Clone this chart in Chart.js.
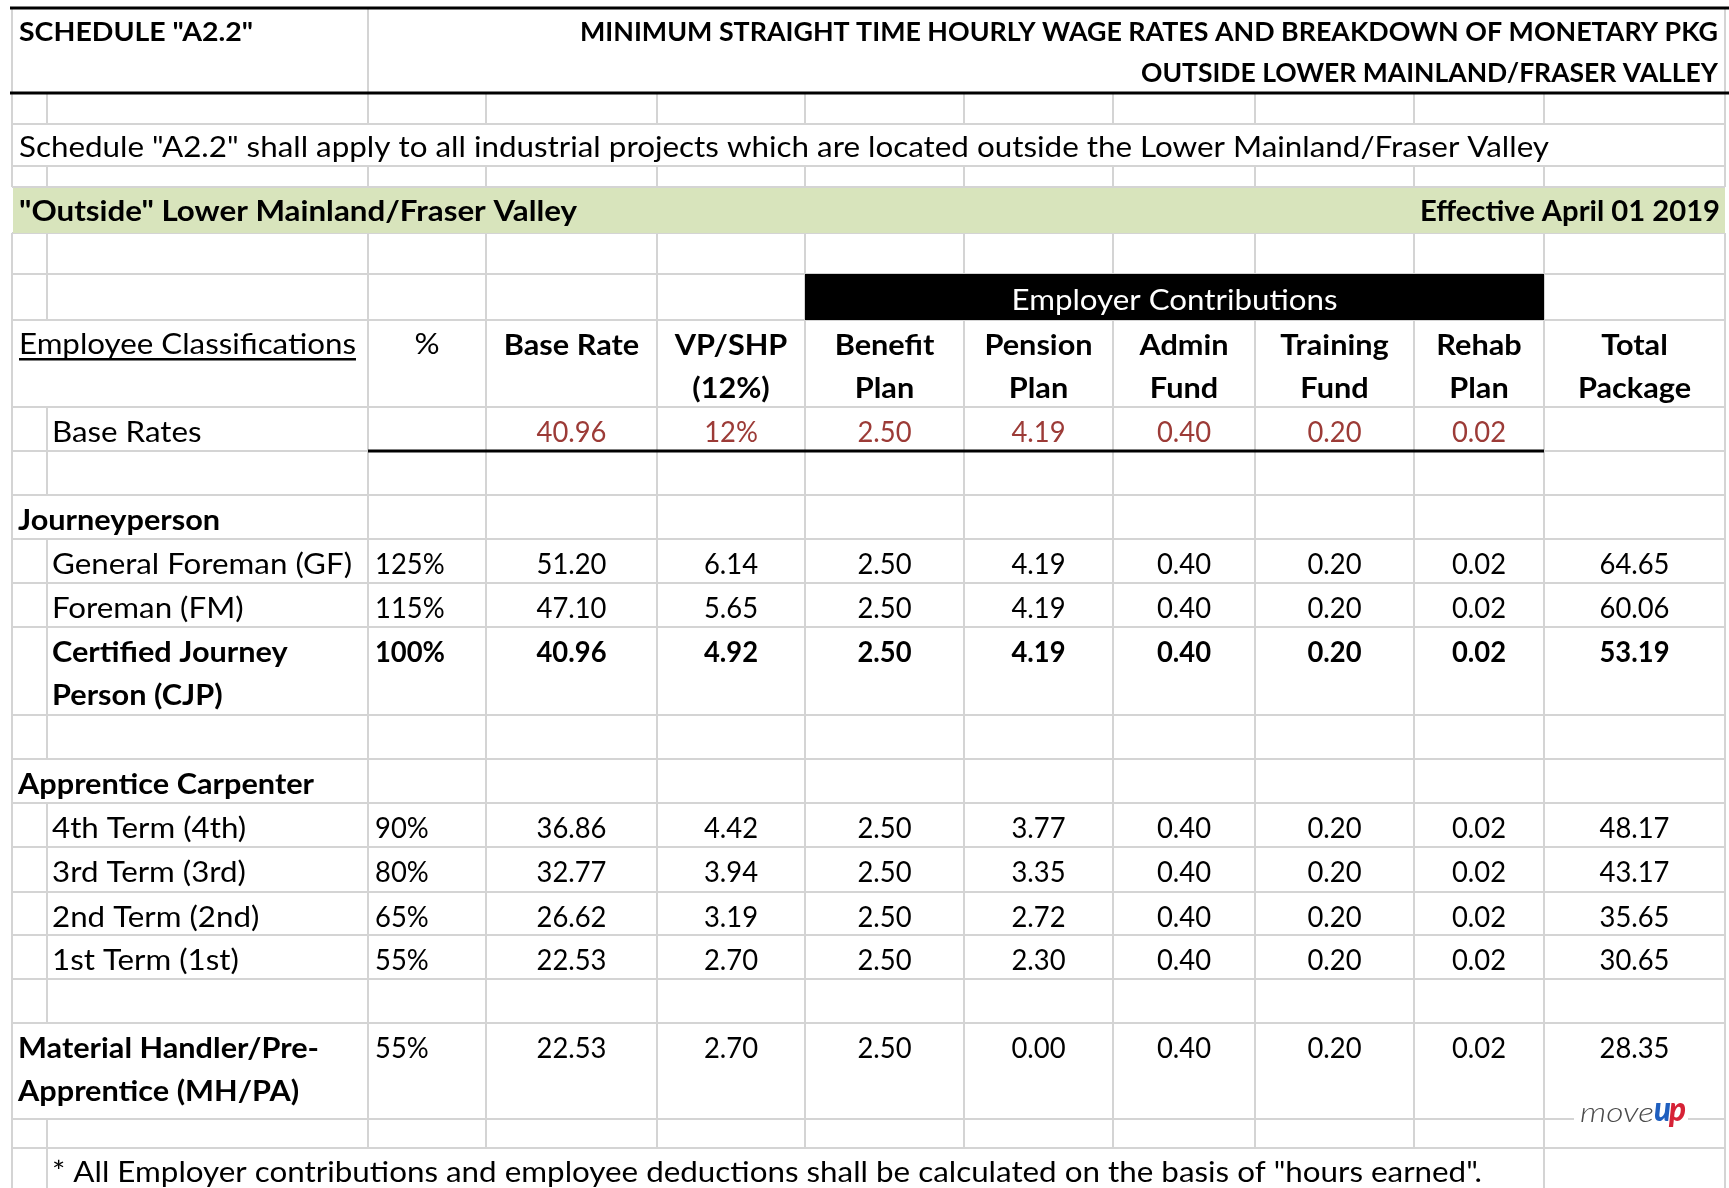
<!DOCTYPE html>
<html>
<head>
<meta charset="utf-8">
<title>Schedule A2.2</title>
<script src="https://cdn.jsdelivr.net/npm/chart.js@4.4.1/dist/chart.umd.min.js"></script>
<style>
  html, body { margin: 0; padding: 0; background: #fff; }
  canvas { display: block; }
</style>
</head>
<body>
<canvas id="wageChart" width="1729" height="1188"></canvas>
<script>
// ---- table data ----
const classLabels = [
  'General Foreman (GF)', 'Foreman (FM)', ['Certified Journey', 'Person (CJP)'],
  '4th Term (4th)', '3rd Term (3rd)', '2nd Term (2nd)', '1st Term (1st)',
  ['Material Handler/Pre-', 'Apprentice (MH/PA)']
];
const percents     = ['125%', '115%', '100%', '90%', '80%', '65%', '55%', '55%'];
const baseRate     = [51.20, 47.10, 40.96, 36.86, 32.77, 26.62, 22.53, 22.53];
const vpShp        = [6.14, 5.65, 4.92, 4.42, 3.94, 3.19, 2.70, 2.70];
const benefitPlan  = [2.50, 2.50, 2.50, 2.50, 2.50, 2.50, 2.50, 2.50];
const pensionPlan  = [4.19, 4.19, 4.19, 3.77, 3.35, 2.72, 2.30, 0.00];
const adminFund    = [0.40, 0.40, 0.40, 0.40, 0.40, 0.40, 0.40, 0.40];
const trainingFund = [0.20, 0.20, 0.20, 0.20, 0.20, 0.20, 0.20, 0.20];
const rehabPlan    = [0.02, 0.02, 0.02, 0.02, 0.02, 0.02, 0.02, 0.02];
const totalPackage = [64.65, 60.06, 53.19, 48.17, 43.17, 35.65, 30.65, 28.35];
const baseRates    = ['40.96', '12%', '2.50', '4.19', '0.40', '0.20', '0.02'];
const columnHeads  = [['Base Rate'], ['VP/SHP', '(12%)'], ['Benefit', 'Plan'], ['Pension', 'Plan'],
                      ['Admin', 'Fund'], ['Training', 'Fund'], ['Rehab', 'Plan'], ['Total', 'Package']];
const sections     = ['Journeyperson', 'Apprentice Carpenter'];

// ---- sheet layout (pixels) ----
const W = 1729, H = 1188;
const X0 = 12, Y0 = 8;
const colWidths  = [35, 321, 118, 171, 148, 159, 149, 142, 159, 130, 181];
const rowHeights = [85, 31, 42, 21, 46, 41, 46, 87, 44, 44, 44, 44, 44, 88, 44, 44, 44, 45, 43, 44, 44, 96, 29, 44];
const colEdges = [X0];
colWidths.forEach(w => colEdges.push(colEdges[colEdges.length - 1] + w));
const rowEdges = [Y0];
rowHeights.forEach(h => rowEdges.push(rowEdges[rowEdges.length - 1] + h));
const classRows = [11, 12, 13, 16, 17, 18, 19, 21];
const sectionRows = [10, 15];

const RED = '#9c3b37';
const GRID = '#d4d4d4';

// Lato stands in for Calibri; each style gets squeezed to Calibri's width
const FONTS = {
  reg:     { font: '29px Lato', ref: 'General Foreman (GF)', refW: 300 },
  bold:    { font: 'bold 29px Lato', ref: 'Apprentice Carpenter', refW: 296 },
  num:     { font: '29px Lato', ref: '51.20', refW: 70 },
  numBold: { font: 'bold 29px Lato', ref: '53.19', refW: 70 },
  title:   { font: 'bold 27px Lato', ref: 'OUTSIDE LOWER MAINLAND/FRASER VALLEY', refW: 577 }
};

const colCenter = i => (colEdges[i] + colEdges[i + 1]) / 2;
const baseline = (row, line = 0) => rowEdges[row] + 34 + 43 * line;

// every text cell becomes a point; the plugin writes it at the point's pixel
const cells = [];
function cell(t, x, y, opts = {}) {
  cells.push({ x, y, t, align: opts.align || 'left', style: opts.style || 'reg',
               color: opts.color || '#000', underline: !!opts.underline, fit: opts.fit || 0 });
}

// title block
cell('SCHEDULE "A2.2"', X0 + 7, rowEdges[0] + 33, { style: 'title', fit: 234 });
cell('MINIMUM STRAIGHT TIME HOURLY WAGE RATES AND BREAKDOWN OF MONETARY PKG', colEdges[11] - 7, rowEdges[0] + 33, { style: 'title', align: 'right', fit: 1138 });
cell('OUTSIDE LOWER MAINLAND/FRASER VALLEY', colEdges[11] - 7, rowEdges[0] + 74, { style: 'title', align: 'right' });
cell('Schedule "A2.2" shall apply to all industrial projects which are located outside the Lower Mainland/Fraser Valley', X0 + 7, rowEdges[2] + 33, { fit: 1530 });
cell('"Outside" Lower Mainland/Fraser Valley', X0 + 7, rowEdges[4] + 34, { style: 'bold', fit: 558 });
cell('Effective April 01 2019', colEdges[11] - 5, rowEdges[4] + 34, { style: 'bold', align: 'right', fit: 300 });
cell('Employer Contributions', (colEdges[5] + colEdges[10]) / 2, rowEdges[6] + 36, { align: 'center', color: '#fff' });

// header row
cell('Employee Classifications', X0 + 7, baseline(7), { underline: true });
cell('%', colCenter(2), baseline(7), { align: 'center' });
columnHeads.forEach((lines, k) => lines.forEach((t, ln) =>
  cell(t, colCenter(k + 3), baseline(7, ln) + 1, { align: 'center', style: 'bold' })));

// base rates row
cell('Base Rates', colEdges[1] + 5, baseline(8) + 1);
baseRates.forEach((t, k) => cell(t, colCenter(k + 3), baseline(8) + 1, { align: 'center', color: RED, style: 'num' }));

// section labels
sections.forEach((t, k) => cell(t, X0 + 6, baseline(sectionRows[k]) + 1, { style: 'bold' }));

// classification rows
const valueCols = [baseRate, vpShp, benefitPlan, pensionPlan, adminFund, trainingFund, rehabPlan, totalPackage];
classLabels.forEach((lab, j) => {
  const row = classRows[j];
  const numStyle = j === 2 ? 'numBold' : 'num';
  const labStyle = (j === 2 || j === 7) ? 'bold' : 'reg';
  const labX = j === 7 ? X0 + 6 : colEdges[1] + 5;
  [].concat(lab).forEach((t, ln) => cell(t, labX, baseline(row, ln) + 1, { style: labStyle }));
  cell(percents[j], colEdges[2] + 7, baseline(row) + 1, { style: numStyle });
  valueCols.forEach((arr, k) =>
    cell(arr[j].toFixed(2), colCenter(k + 3), baseline(row) + 1, { align: 'center', style: numStyle }));
});

cell('* All Employer contributions and employee deductions shall be calculated on the basis of "hours earned".',
     colEdges[1] + 5, rowEdges[23] + 34, { fit: 1430 });

// ---- plugins ----
function drawText(ctx, c, x, y) {
  const f = FONTS[c.style];
  ctx.save();
  ctx.font = f.font;
  if (!f.sx) f.sx = f.refW / ctx.measureText(f.ref).width;
  const sx = c.fit ? c.fit / ctx.measureText(c.t).width : f.sx;
  ctx.translate(x, y);
  ctx.scale(sx, 1);
  ctx.textAlign = c.align;
  ctx.textBaseline = 'alphabetic';
  ctx.fillStyle = c.color;
  ctx.fillText(c.t, 0, 0);
  if (c.underline) {
    const w = ctx.measureText(c.t).width;
    ctx.fillRect(0, 4, w, 2.5);
  }
  ctx.restore();
}

// vertical gridlines present in each row (indices into colEdges)
const ALL = colEdges.map((_, i) => i);
const noIndent = ALL.filter(i => i !== 1);
const rowVerticals = rowHeights.map((_, r) => {
  if (r === 0) return [0, 2, 11];
  if (r === 2) return [0, 11];
  if (r === 4) return [];
  if (r === 6) return [0, 1, 2, 3, 4, 5, 10, 11];
  if (r === 7 || r === 10 || r === 15 || r === 21) return noIndent;
  if (r === 23) return [0, 1, 10, 11];
  return ALL;
});

const sheetPlugin = {
  id: 'sheet',
  beforeDatasetsDraw(chart) {
    const { ctx } = chart;
    const xs = chart.scales.x, ys = chart.scales.y;
    const px = v => xs.getPixelForValue(v), py = v => ys.getPixelForValue(v);
    ctx.save();
    ctx.fillStyle = '#fff';
    ctx.fillRect(0, 0, chart.width, chart.height);

    ctx.strokeStyle = GRID;
    ctx.lineWidth = 2;
    ctx.beginPath();
    for (let r = 2; r < rowEdges.length; r++) {
      ctx.moveTo(px(colEdges[0]), py(rowEdges[r]));
      ctx.lineTo(px(colEdges[11]), py(rowEdges[r]));
    }
    rowVerticals.forEach((cols, r) => cols.forEach(i => {
      ctx.moveTo(px(colEdges[i]), py(rowEdges[r]));
      ctx.lineTo(px(colEdges[i]), py(rowEdges[r + 1]));
    }));
    ctx.stroke();

    // green band
    ctx.fillStyle = '#d8e4bc';
    ctx.fillRect(px(colEdges[0]) + 1, py(rowEdges[4]) + 1, px(colEdges[11]) - px(colEdges[0]) - 1, py(rowEdges[5]) - py(rowEdges[4]) - 1);

    // black band over employer contribution columns
    ctx.fillStyle = '#000';
    ctx.fillRect(px(colEdges[5]), py(rowEdges[6]), px(colEdges[10]) - px(colEdges[5]), py(rowEdges[7]) - py(rowEdges[6]));

    // heavy rules
    ctx.strokeStyle = '#000';
    ctx.lineWidth = 3;
    ctx.beginPath();
    [rowEdges[0], rowEdges[1]].forEach(y => {
      ctx.moveTo(px(colEdges[0] - 2), py(y));
      ctx.lineTo(px(W), py(y));
    });
    ctx.moveTo(px(colEdges[2]), py(rowEdges[9]));
    ctx.lineTo(px(colEdges[10]), py(rowEdges[9]));
    ctx.stroke();
    ctx.restore();
  },
  afterDatasetsDraw(chart) {
    const { ctx } = chart;
    chart.data.datasets.forEach((ds, i) => {
      chart.getDatasetMeta(i).data.forEach((pt, j) => drawText(ctx, ds.data[j], pt.x, pt.y));
    });

    // moveUP mark in the bottom right cell
    const xs = chart.scales.x, ys = chart.scales.y;
    const lx = xs.getPixelForValue(1580), ly = ys.getPixelForValue(1122);
    ctx.save();
    ctx.fillStyle = '#fff';
    ctx.fillRect(lx - 6, ly - 30, 114, 40);
    ctx.textBaseline = 'alphabetic';
    ctx.font = 'italic 300 27px Lato';
    ctx.fillStyle = '#4a4a4a';
    ctx.save();
    ctx.translate(lx, ly);
    ctx.scale(74 / ctx.measureText('move').width, 1);
    ctx.fillText('move', 0, 0);
    ctx.restore();
    ctx.font = 'italic 900 34px Lato';
    ctx.fillStyle = '#1f5fbf';
    ctx.fillText('u', lx + 74, ly - 1, 17);
    ctx.fillStyle = '#d62236';
    ctx.fillText('p', lx + 89, ly - 1, 17);
    ctx.restore();
  }
};

new Chart(document.getElementById('wageChart'), {
  type: 'scatter',
  data: { datasets: [{ data: cells, pointRadius: 0, pointHoverRadius: 0, clip: false }] },
  options: {
    responsive: false,
    animation: false,
    events: [],
    layout: { padding: 0 },
    plugins: { legend: { display: false }, tooltip: { enabled: false } },
    scales: {
      x: { type: 'linear', min: 0, max: W, display: false },
      y: { type: 'linear', min: 0, max: H, reverse: true, display: false }
    }
  },
  plugins: [sheetPlugin]
});
</script>
</body>
</html>
